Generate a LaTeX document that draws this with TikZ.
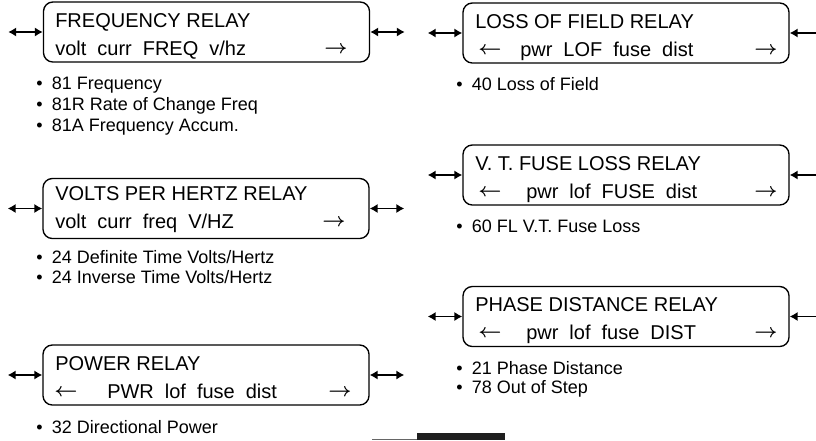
\documentclass[tikz,border=0pt]{standalone}
\usepackage{fontspec}
\setmainfont{Liberation Sans}
\usetikzlibrary{arrows.meta}
\newcommand{\relayfont}{\fontsize{15}{17}\selectfont}
\newcommand{\itemfont}{\fontsize{13.5}{15}\selectfont}
\newcommand{\gap}{\hspace{0.55em}}
\newcommand{\rarrow}{\raisebox{1.5pt}{\scalebox{1.05}[1]{\boldmath$\rightarrow$}}}
\newcommand{\larrow}{\raisebox{1.5pt}{\scalebox{1.05}[1]{\boldmath$\leftarrow$}}}
\tikzset{
  relay/.style={draw, line width=1pt, rounded corners=7pt, minimum width=244.5pt, minimum height=45pt, inner sep=0pt},
  reltext/.style={anchor=base west, inner sep=0pt, font=\relayfont},
  relarrow/.style={anchor=base, inner sep=0pt, font=\relayfont},
  relitem/.style={anchor=base west, inner sep=0pt, font=\itemfont},
  link/.style={{Latex[length=6pt,width=7pt]}-{Latex[length=6pt,width=7pt]}, line width=1.4pt}
}

\begin{document}
\begin{tikzpicture}[x=0.75pt,y=-0.75pt]
\path[use as bounding box] (0,0) rectangle (816,440);
% relay boxes
\node[relay] (freq) at (206.5,32) {};
\node[relay] (lof) at (626,33) {};
\node[relay] (vhz) at (206,208.5) {};
\node[relay] (fuse) at (626,175) {};
\node[relay] (pwr) at (206,375) {};
\node[relay] (dist) at (626,316.5) {};
% links
\foreach \b in {freq,lof,vhz,fuse,pwr,dist} {
  \draw[link] ([xshift=-26pt]\b.west) -- (\b.west);
  \draw[link] (\b.east) -- ([xshift=26pt]\b.east);
}
% left column
\node[reltext] (freq-t) at (55,27) {FREQUENCY RELAY};
\node[reltext] (freq-m) at (55,55) {volt\gap curr\gap FREQ\gap v/hz};
\node[relarrow] (freq-r) at (336,55) {\rarrow};
\node[reltext] (vhz-t) at (55,200) {VOLTS PER HERTZ RELAY};
\node[reltext] (vhz-m) at (55,228) {volt\gap curr\gap freq\gap V/HZ};
\node[relarrow] (vhz-r) at (334,228) {\rarrow};
\node[reltext] (pwr-t) at (55,370) {POWER RELAY};
\node[relarrow] (pwr-l) at (66,398) {\larrow};
\node[reltext] (pwr-m) at (107,398) {PWR\gap lof\gap fuse\gap dist};
\node[relarrow] (pwr-r) at (340,398) {\rarrow};
% right column
\node[reltext] (lof-t) at (475,28) {LOSS OF FIELD RELAY};
\node[relarrow] (lof-l) at (490,56) {\larrow};
\node[reltext] (lof-m) at (520,56) {pwr\gap LOF\gap fuse\gap dist};
\node[relarrow] (lof-r) at (766,56) {\rarrow};
\node[reltext] (fuse-t) at (475,170) {V. T. FUSE LOSS RELAY};
\node[relarrow] (fuse-l) at (490,198) {\larrow};
\node[reltext] (fuse-m) at (526,198) {pwr\gap lof\gap FUSE\gap dist};
\node[relarrow] (fuse-r) at (766,198) {\rarrow};
\node[reltext] (dist-t) at (475,311) {PHASE DISTANCE RELAY};
\node[relarrow] (dist-l) at (490,339) {\larrow};
\node[reltext] (dist-m) at (526,339) {pwr\gap lof\gap fuse\gap DIST};
\node[relarrow] (dist-r) at (766,339) {\rarrow};
% function lists
\foreach \txt [count=\i] in {81 Frequency, 81R Rate of Change Freq, 81A Frequency Accum.}
  \node[relitem] (freq-i\i) at (36,68+21*\i) {\textbullet\hspace{7pt}\txt};
\foreach \txt [count=\i] in {24 Definite Time Volts/Hertz, 24 Inverse Time Volts/Hertz}
  \node[relitem] (vhz-i\i) at (36,243+20*\i) {\textbullet\hspace{7pt}\txt};
\node[relitem] (pwr-i1) at (36,433) {\textbullet\hspace{7pt}32 Directional Power};
\node[relitem] (lof-i1) at (456,90) {\textbullet\hspace{7pt}40 Loss of Field};
\node[relitem] (fuse-i1) at (456,232) {\textbullet\hspace{7pt}60 FL V.T. Fuse Loss};
\foreach \txt [count=\i] in {21 Phase Distance, 78 Out of Step}
  \node[relitem] (dist-i\i) at (456,355+19*\i) {\textbullet\hspace{7pt}\txt};
% scan edge at the bottom
\draw[black!60, line width=0.5pt] (372,439) -- (417,439);
\fill[black!88] (417,433) rectangle (505,440);
\end{tikzpicture}
\end{document}
